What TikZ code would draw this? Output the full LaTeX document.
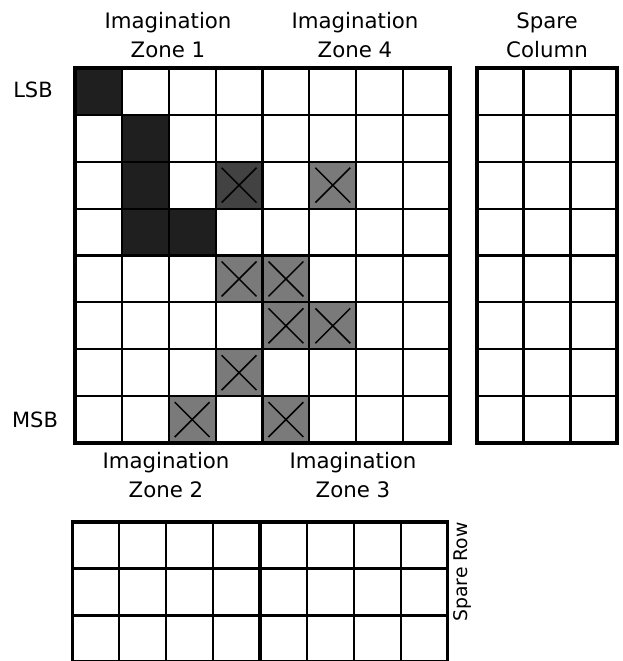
\documentclass[tikz,border=0pt]{standalone}
\usepackage{fontspec}
\setmainfont{DejaVu Sans}
\begin{document}
\begin{tikzpicture}[x=1pt,y=-1pt,
  lbl/.style={font=\fontsize{21.3}{29}\selectfont, align=center, inner sep=0pt, anchor=base},
  sidelbl/.style={font=\fontsize{21}{29}\selectfont, inner sep=0pt, anchor=base},
  thingrid/.style={line width=2pt, line cap=rect},
  thickgrid/.style={line width=3.3pt, line cap=rect},
  darkcell/.style={fill=black!88},
  midcell/.style={fill=black!74},
  graycell/.style={fill=black!52},
  cross/.style={line width=1.5pt, draw=black}]
\useasboundingbox (0,0) rectangle (622,661);
\def\cw{46.875}
% shaded cells of the main array
\foreach \r/\c/\s in {1/1/darkcell,2/2/darkcell,3/2/darkcell,4/2/darkcell,4/3/darkcell,
                      3/4/midcell,3/6/graycell,5/4/graycell,5/5/graycell,6/5/graycell,
                      6/6/graycell,7/4/graycell,8/3/graycell,8/5/graycell}
  {\fill[\s] ({75+(\c-1)*\cw},{68+(\r-1)*\cw}) rectangle ++(\cw,\cw);}
% crosses
\foreach \r/\c in {3/4,3/6,5/4,5/5,6/5,6/6,7/4,8/3,8/5}
  {\draw[cross] ({75+(\c-1)*\cw+6},{68+(\r-1)*\cw+6}) -- ++({\cw-12},{\cw-12});
   \draw[cross] ({75+\c*\cw-6},{68+(\r-1)*\cw+6}) -- ++({-\cw+12},{\cw-12});}
% main array grid
\foreach \i in {1,...,7}
  {\draw[thingrid] ({75+\i*\cw},68) -- ({75+\i*\cw},443);
   \draw[thingrid] (75,{68+\i*\cw}) -- (450,{68+\i*\cw});}
\draw[thickgrid] (75,68) rectangle (450,443);
\draw[thickgrid] (262.5,68) -- (262.5,443);
\draw[thickgrid] (75,255.5) -- (450,255.5);
% spare column
\foreach \i in {1,...,7}
  {\draw[thingrid] (477,{68+\i*\cw}) -- (617,{68+\i*\cw});}
\foreach \i in {1,2}
  {\draw[thickgrid] ({477+\i*46.67},68) -- ({477+\i*46.67},443);}
\draw[thickgrid] (477,68) rectangle (617,443);
\draw[thickgrid] (477,255.5) -- (617,255.5);
% spare row
\foreach \i in {1,...,7}
  {\draw[thingrid] ({72.5+\i*\cw},522) -- ({72.5+\i*\cw},670);}
\draw[thickgrid] (72.5,670) -- (72.5,522) -- (447.5,522) -- (447.5,670);
\draw[thickgrid] (260,522) -- (260,670);
\draw[thickgrid] (72.5,568.7) -- (447.5,568.7);
\draw[thickgrid] (72.5,615.4) -- (447.5,615.4);
\draw[thickgrid] (72.5,662) -- (447.5,662);
% labels
\node[lbl] (z1) at (168,58) {Imagination\\Zone 1};
\node[lbl] (z4) at (355,58) {Imagination\\Zone 4};
\node[lbl] (sc) at (547,58) {Spare\\Column};
\node[lbl] (z2) at (166,497) {Imagination\\Zone 2};
\node[lbl] (z3) at (353,497) {Imagination\\Zone 3};
\node[sidelbl] (lsb) at (33,97) {LSB};
\node[sidelbl] (msb) at (35,427.5) {MSB};
\node[sidelbl, font=\fontsize{18.8}{22}\selectfont, rotate=90] (sr) at (467.5,572) {Spare Row};
\end{tikzpicture}
\end{document}
